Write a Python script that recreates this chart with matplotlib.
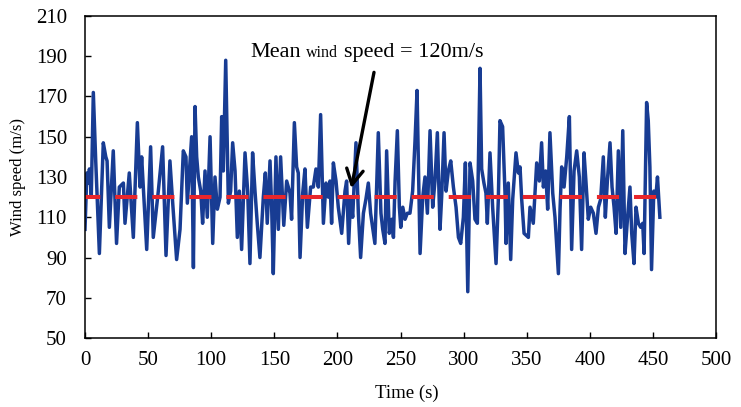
import numpy as np
import matplotlib.pyplot as plt

# values
time_s = [0, 1.5, 2.6, 3.5, 5, 6.6, 8.5, 11.4, 14.5, 16.5, 17.5, 19.3, 22.4, 25.0,
          27.2, 30.4, 31.7, 35.1, 38.3, 41.5, 43.6, 44.9, 48.9, 52.0, 54.1, 58.1,
          61.5, 64.2, 67.3, 69.5, 72.6, 75.3, 77.9, 80.0, 81.1, 83.2, 84.5, 85.9,
          87.2, 88.5, 89.8, 91.7, 93.2, 95.1, 96.9, 99.1, 101.2, 103.0, 104.9, 107.0,
          108.3, 109.6, 111.5, 113.6, 115.4, 117.0, 118.9, 120.7, 122.3, 124.1, 126.8,
          128.9, 130.7, 132.8, 134.7, 136.5, 138.6, 141.3, 142.9, 144.4, 146.6, 147.9,
          149.2, 151.3, 153.2, 155.0, 157.5, 159.8, 162.4, 163.7, 165.9, 167.7, 169.0,
          170.4, 172.5, 174.3, 176.2, 178.8, 180.9, 183.0, 184.9, 186.7, 188.9, 191.0,
          192.8, 194.1, 195.4, 196.8, 198.9, 200.7, 203.4, 206.0, 207.3, 208.9, 210.5,
          212.1, 214.7, 216.6, 218.4, 220.6, 222.6, 224.5, 226.3, 229.7, 232.4, 234.5,
          235.9, 237.7, 239.0, 241.1, 243.0, 244.4, 245.7, 247.5, 249.1, 250.2, 251.8,
          253.6, 255.4, 257.5, 259.6, 261.5, 263.1, 265.5, 267.6, 269.4, 271.3, 273.4,
          275.5, 277.3, 279.2, 281.3, 282.6, 284.5, 286.1, 287.9, 289.8, 291.9, 294.0,
          295.9, 297.7, 299.8, 301.4, 303.3, 305.1, 307.2, 309.0, 310.9, 313.0, 314.3,
          316.1, 317.7, 318.8, 320.9, 323.0, 325.7, 327.5, 328.8, 330.9, 332.8, 333.6,
          335.4, 337.3, 338.9, 341.5, 343.4, 344.7, 346.0, 347.9, 351.3, 352.6, 355.2,
          357.9, 360.0, 361.8, 363.2, 365.0, 366.6, 368.4, 370.6, 372.4, 375.1, 376.4,
          377.7, 379.6, 381.7, 383.8, 385.6, 387.5, 389.6, 391.7, 393.5, 395.4, 396.9,
          398.8, 400.7, 402.8, 404.9, 406.8, 408.6, 410.7, 412.3, 413.9, 416.0, 417.6,
          419.2, 420.8, 422.6, 424.5, 426.1, 427.9, 429.8, 431.8, 433.2, 435.0, 436.6,
          438.5, 440.3, 441.9, 443.0, 445.0, 446.3, 447.6, 448.9, 450.7, 452.3, 453.6,
          455.5]
wind_speed = [104, 132, 127, 134, 121, 172, 138, 92, 147, 140, 138, 105, 143, 97,
              125, 127, 107, 132, 100, 157, 125, 140, 94, 145, 100, 123,
              145, 91, 138, 117, 89, 104, 143, 140, 117, 137, 150, 85,
              165, 140, 130, 123, 107, 133, 110, 150, 97, 130, 114, 120,
              160, 133, 188, 117, 123, 147, 133, 100, 123, 94, 142,
              123, 87, 142, 123, 107, 90, 120, 132, 107, 138, 115,
              82, 140, 104, 140, 106, 128, 122, 109, 157, 135, 132,
              90, 122, 134, 105, 125, 125, 134, 125, 161, 107, 127,
              120, 128, 107, 137, 128, 115, 102, 123, 128, 97, 120,
              110, 147, 112, 90, 112, 119, 127, 112, 97, 152, 112,
              104, 97, 143, 102, 109, 100, 128, 153, 115, 105, 115,
              109, 112, 112, 123, 148, 173, 92, 120, 130, 112, 153,
              115, 128, 152, 104, 120, 152, 123, 133, 138, 125, 115,
              100, 97, 110, 137, 73, 137, 128, 109, 107, 184, 134,
              127, 122, 107, 142, 115, 87, 119, 158, 155, 122, 97,
              127, 89, 119, 142, 132, 135, 119, 102, 100, 115, 107,
              137, 128, 147, 125, 133, 114, 152, 122, 110, 82, 114,
              135, 125, 140, 160, 94, 133, 143, 130, 94, 142, 128,
              109, 115, 112, 102, 115, 119, 140, 110, 128, 147, 125,
              115, 102, 143, 105, 153, 92, 109, 125, 102, 87, 115,
              107, 105, 107, 92, 167, 158, 135, 84, 123, 120, 130,
              110]
mean_speed = 120
x_ticks = [0, 50, 100, 150, 200, 250, 300, 350, 400, 450, 500]
y_ticks = [50, 70, 90, 110, 130, 150, 170, 190, 210]

plt.rcParams['font.family'] = ['Liberation Serif', 'DejaVu Serif']

fig = plt.figure(figsize=(7.41, 4.07), dpi=100)
ax = fig.add_axes([0.1147, 0.1695, 0.8516, 0.7912])

ax.plot(time_s, wind_speed, color='#183c93', lw=2.5)
ax.plot([time_s[0], time_s[-1]], [mean_speed, mean_speed], color='#e8262b',
        lw=2.9, linestyle=(1.7, (5.5, 3.7)))

ax.set_xlim(0, 500)
ax.set_ylim(50, 210)
ax.set_xticks(x_ticks)
ax.set_yticks(y_ticks)
ax.tick_params(direction='in', length=4, width=1, labelsize=15)
ax.tick_params(axis='x', pad=9)
ax.tick_params(axis='y', pad=13)
for sp in ax.spines.values():
    sp.set_linewidth(1.1)

ax.set_xlabel("Time (s)", fontsize=13.5, labelpad=11)
ax.xaxis.set_label_coords(0.51, -0.145, transform=ax.transAxes)
ax.set_ylabel("Wind speed (m/s)", fontsize=12, labelpad=7)

ax.annotate('', xy=(211, 124.5), xytext=(229, 182),
            arrowprops=dict(arrowstyle='->,head_length=0.55,head_width=0.3',
                            color='black', lw=2.4, mutation_scale=20,
                            shrinkA=0, shrinkB=0))

# title text with a smaller "wind"
fig.canvas.draw()
r = fig.canvas.get_renderer()
x0, y0 = ax.transAxes.transform((0.2615, 0.8727))
x = x0
for s, fs in [("Mean", 16), ("wind", 11.5), ("speed = 120m/s", 16)]:
    t = fig.text(x / fig.bbox.width, y0 / fig.bbox.height, s, fontsize=fs,
                 va='baseline', ha='left')
    x += t.get_window_extent(r).width + 5.5

fig.savefig("out.png", dpi=100)
